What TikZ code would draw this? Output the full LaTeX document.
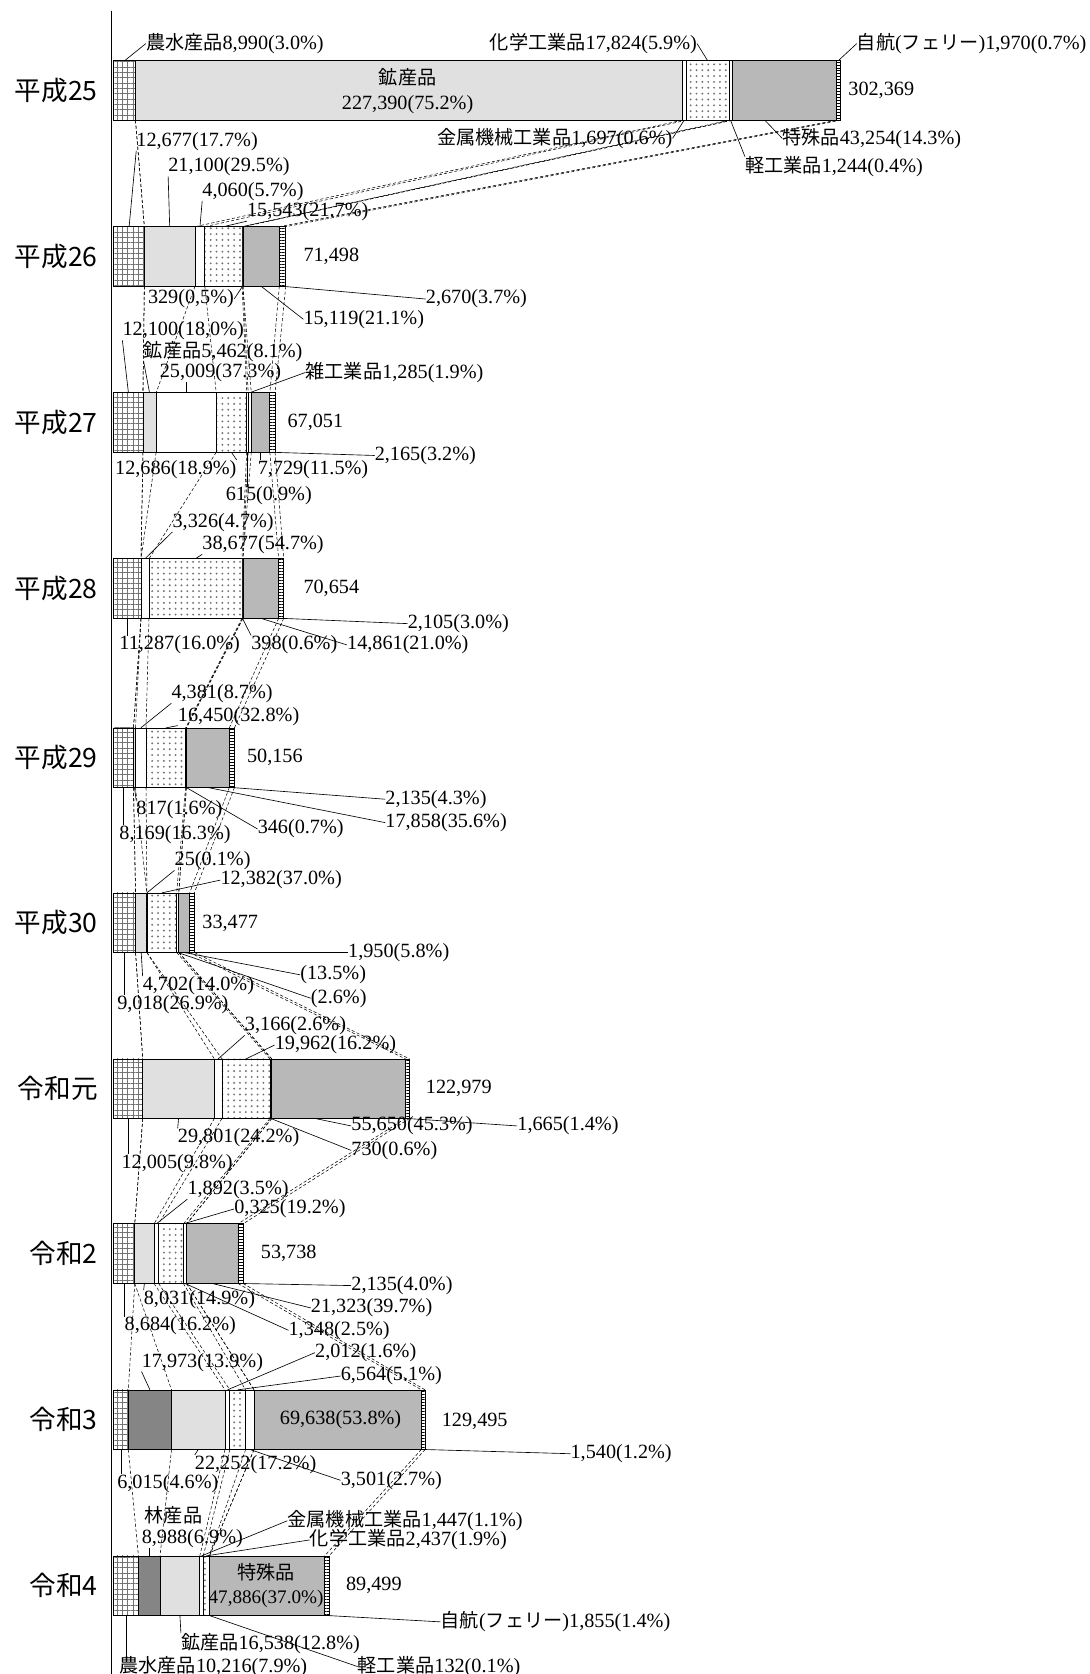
\documentclass[tikz,border=0pt]{standalone}
\usepackage{fontspec}
\setmainfont{Liberation Serif}
\newfontfamily\jp{Noto Sans CJK JP}
\usetikzlibrary{patterns.meta}

\newcommand\lbfont{\fontsize{19}{21}\selectfont}
\newcommand\yrfont{\jp\fontsize{25}{28}\selectfont}
\newcommand\jt[1]{{\jp\fontsize{18}{20}\selectfont #1}}
\newcommand\unitw{2.2588}

\tikzset{
    lbl/.style = {font=\lbfont, inner sep=0pt},
    yr/.style = {font=\yrfont, inner sep=0pt, anchor=east},
    lead/.style = {line width = 0.6pt},
    link/.style = {line width = 0.5pt, dash pattern = on 3pt off 2pt},
    seg/.style = {draw=black, line width = 0.7pt},
    seg1/.style = {seg, pattern={Hatch[angle=0, distance=5pt, line width=0.6pt]}, pattern color=black!55},
    seg2/.style = {seg, fill=black!48},
    seg3/.style = {seg, fill=black!12},
    seg4/.style = {seg, fill=white},
    seg5/.style = {seg, pattern={Dots[distance=5.5pt, radius=1pt]}, pattern color=black!55},
    seg6/.style = {seg, fill=white},
    seg7/.style = {seg, fill=white},
    seg8/.style = {seg, fill=black!28},
    seg9/.style = {seg, pattern={Lines[angle=0, distance=2.8pt, line width=0.7pt]}, pattern color=black},
}

% one bar: row name, top edge, values in thousands
\newcommand\cargobar[3]{%
    \gdef\xcur{107}%
    \foreach \v [count=\k] in {#3} {
        \pgfmathsetmacro\xnext{\xcur+\v*\unitw}
        \draw
            [style=seg\k] (\xcur,#2) rectangle (\xnext,#2+56);
        \coordinate (#1s\k-t) at ({(\xcur+\xnext)/2},#2);
        \coordinate (#1s\k-b) at ({(\xcur+\xnext)/2},#2+56);
        \coordinate (#1b\k-t) at (\xnext,#2);
        \coordinate (#1b\k-b) at (\xnext,#2+56);
        \xdef\xcur{\xnext}
    }%
}

\begin{document}
\begin{tikzpicture}[x=1pt, y=-1pt]
    \useasboundingbox (0,0) rectangle (1024,1573);

    \coordinate (axtop) at (105,10);
    \coordinate (axbot) at (105,1573);
    \draw
        [line width = 1.2pt] (axtop) -- (axbot);

    \cargobar{r1}{57}{8.990, 0, 227.390, 1.697, 17.824, 1.244, 0, 43.254, 1.970}
    \cargobar{r2}{213}{12.677, 0, 21.100, 4.060, 15.543, 0.329, 0, 15.119, 2.670}
    \cargobar{r3}{369}{12.100, 0, 5.462, 25.009, 12.686, 0.615, 1.285, 7.729, 2.165}
    \cargobar{r4}{525}{11.287, 0, 0, 3.326, 38.677, 0.398, 0, 14.861, 2.105}
    \cargobar{r5}{684}{8.169, 0, 0.817, 4.381, 16.450, 0.346, 0, 17.858, 2.135}
    \cargobar{r6}{839}{9.018, 0, 4.702, 0.025, 12.382, 0.881, 0, 4.519, 1.950}
    \cargobar{r7}{995}{12.005, 0, 29.801, 3.166, 19.962, 0.730, 0, 55.650, 1.665}
    \cargobar{r8}{1150}{8.684, 0, 8.031, 1.892, 10.325, 1.348, 0, 21.323, 2.135}
    \cargobar{r9}{1306}{6.015, 17.973, 22.252, 2.012, 6.564, 3.501, 0, 69.638, 1.540}
    \cargobar{r10}{1462}{10.216, 8.988, 16.538, 1.447, 2.437, 0.132, 0, 47.886, 1.855}

    \foreach \i [evaluate=\i as \j using int(\i+1)] in {1,...,9}
        \foreach \k in {1,...,9}
            \draw
                [link] (r\i b\k-b) -- (r\j b\k-t);

    \node[yr] (y1) at (92,85) {平成25};
    \node[yr] (y2) at (92,241) {平成26};
    \node[yr] (y3) at (92,397) {平成27};
    \node[yr] (y4) at (92,553) {平成28};
    \node[yr] (y5) at (92,712) {平成29};
    \node[yr] (y6) at (92,867) {平成30};
    \node[yr] (y7) at (92,1023) {令和元};
    \node[yr] (y8) at (92,1178) {令和2};
    \node[yr] (y9) at (92,1334) {令和3};
    \node[yr] (y10) at (92,1490) {令和4};

    % 平成25
    \node[lbl, anchor=west] (r1a) at (137,41) {\jt{農水産品}8,990(3.0\%)};
    \node[lbl, anchor=east] (r1e) at (655,41) {\jt{化学工業品}17,824(5.9\%)};
    \node[lbl, anchor=west] (r1i) at (805,41) {\jt{自航}(\jt{フェリー})1,970(0.7\%)};
    \node[lbl] (r1c) at (383,73) {\jt{鉱産品}};
    \node[lbl] (r1cv) at (383,98) {227,390(75.2\%)};
    \node[lbl, anchor=west] (r1t) at (797,85) {302,369};
    \node[lbl, anchor=east] (r1d) at (632,130) {\jt{金属機械工業品}1,697(0.6\%)};
    \node[lbl, anchor=west] (r1h) at (735,130) {\jt{特殊品}43,254(14.3\%)};
    \node[lbl, anchor=west] (r1f) at (700,157) {\jt{軽工業品}1,244(0.4\%)};
    \draw[lead] (r1s1-t) -- (r1a.west);
    \draw[lead] (r1e.east) -- (r1s5-t);
    \draw[lead] (r1s9-t) -- (r1i.west);
    \draw[lead] (r1s4-b) -- (r1d.east);
    \draw[lead] ([xshift=-18pt]r1s8-b) -- (r1h.west);
    \draw[lead] (r1s6-b) -- (r1f.north west);

    % 平成26
    \node[lbl, anchor=west] (r2a) at (128,133) {12,677(17.7\%)};
    \node[lbl, anchor=west] (r2c) at (158,157) {21,100(29.5\%)};
    \node[lbl, anchor=west] (r2d) at (190,180) {4,060(5.7\%)};
    \node[lbl, anchor=west] (r2e) at (232,199) {15,543(21.7\%)};
    \node[lbl, anchor=west] (r2t) at (285,241) {71,498};
    \node[lbl, anchor=east] (r2f) at (220,281) {329(0,5\%)};
    \node[lbl, anchor=west] (r2i) at (400,281) {2,670(3.7\%)};
    \node[lbl, anchor=west] (r2h) at (285,300) {15,119(21.1\%)};
    \draw[lead] (r2s1-t) -- (r2a.south west);
    \draw[lead] (r2s3-t) -- (r2c.south west);
    \draw[lead] (r2s4-t) -- (r2d.south west);
    \draw[lead] (r2s5-t) -- (r2e.south west);
    \draw[lead] (r2s6-b) -- (r2f.east);
    \draw[lead] (r2s9-b) -- (r2i.west);
    \draw[lead] (r2s8-b) -- (r2h.west);

    % 平成27
    \node[lbl, anchor=west] (r3a) at (115,311) {12,100(18,0\%)};
    \node[lbl, anchor=west] (r3c) at (135,330) {\jt{鉱産品}5,462(8.1\%)};
    \node[lbl, anchor=west] (r3d) at (150,350) {25,009(37.3\%)};
    \node[lbl, anchor=west] (r3g) at (287,350) {\jt{雑工業品}1,285(1.9\%)};
    \node[lbl, anchor=west] (r3t) at (270,397) {67,051};
    \node[lbl, anchor=west] (r3i) at (352,428) {2,165(3.2\%)};
    \node[lbl, anchor=west] (r3e) at (108,441) {12,686(18.9\%)};
    \node[lbl, anchor=west] (r3h) at (242,441) {7,729(11.5\%)};
    \node[lbl, anchor=west] (r3f) at (212,466) {615(0.9\%)};
    \draw[lead] (r3s1-t) -- (r3a.south west);
    \draw[lead] (r3s3-t) -- (r3c.south west);
    \draw[lead] (r3s4-t) -- (r3s4-t |- r3d.south);
    \draw[lead] (r3s7-t) -- (r3g.west);
    \draw[lead] (r3s9-b) -- (r3i.west);
    \draw[lead] (r3s5-b) -- (r3e.north east);
    \draw[lead] (r3s8-b) -- (r3s8-b |- r3h.north);
    \draw[lead] (r3s6-b) -- (r3s6-b |- r3f.north);

    % 平成28
    \node[lbl, anchor=west] (r4d) at (162,491) {3,326(4.7\%)};
    \node[lbl, anchor=west] (r4e) at (190,512) {38,677(54.7\%)};
    \node[lbl, anchor=west] (r4t) at (285,553) {70,654};
    \node[lbl, anchor=west] (r4i) at (383,586) {2,105(3.0\%)};
    \node[lbl, anchor=west] (r4a) at (112,606) {11,287(16.0\%)};
    \node[lbl, anchor=west] (r4f) at (236,606) {398(0.6\%)};
    \node[lbl, anchor=west] (r4h) at (326,606) {14,861(21.0\%)};
    \draw[lead] (r4s4-t) -- (r4d.south west);
    \draw[lead] (r4s5-t) -- (r4e.south west);
    \draw[lead] (r4s9-b) -- (r4i.west);
    \draw[lead] (r4s1-b) -- (r4s1-b |- r4a.north);
    \draw[lead] (r4s6-b) -- (r4f.north west);
    \draw[lead] (r4s8-b) -- (r4h.west);

    % 平成29
    \node[lbl, anchor=west] (r5d) at (161,652) {4,381(8.7\%)};
    \node[lbl, anchor=west] (r5e) at (167,673) {16,450(32.8\%)};
    \node[lbl, anchor=west] (r5t) at (232,712) {50,156};
    \node[lbl, anchor=west] (r5i) at (362,751) {2,135(4.3\%)};
    \node[lbl, anchor=west] (r5c) at (128,761) {817(1.6\%)};
    \node[lbl, anchor=west] (r5h) at (362,773) {17,858(35.6\%)};
    \node[lbl, anchor=west] (r5f) at (242,779) {346(0.7\%)};
    \node[lbl, anchor=west] (r5a) at (112,784) {8,169(16.3\%)};
    \draw[lead] (r5s4-t) -- (r5d.south west);
    \draw[lead] (r5s5-t) -- (r5e.south west);
    \draw[lead] (r5s9-b) -- (r5i.west);
    \draw[lead] (r5s3-b) -- (r5c.north west);
    \draw[lead] (r5s8-b) -- (r5h.west);
    \draw[lead] (r5b6-b) -- (r5f.west);
    \draw[lead] (r5s1-b) -- (r5s1-b |- r5a.north);

    % 平成30
    \node[lbl, anchor=west] (r6d) at (164,809) {25(0.1\%)};
    \node[lbl, anchor=west] (r6e) at (207,827) {12,382(37.0\%)};
    \node[lbl, anchor=west] (r6t) at (190,868) {33,477};
    \node[lbl, anchor=west] (r6i) at (327,895) {1,950(5.8\%)};
    \node[lbl, anchor=west] (r6h) at (282,916) {(13.5\%)};
    \node[lbl, anchor=west] (r6c) at (134,926) {4,702(14.0\%)};
    \node[lbl, anchor=west] (r6f) at (292,938) {(2.6\%)};
    \node[lbl, anchor=west] (r6a) at (110,944) {9,018(26.9\%)};
    \draw[lead] (r6s4-t) -- (r6d.south west);
    \draw[lead] (r6s5-t) -- (r6e.west);
    \draw[lead] (r6s9-b) -- (r6i.west);
    \draw[lead] (r6s8-b) -- (r6h.west);
    \draw[lead] (r6s3-b) -- (r6c.north west);
    \draw[lead] (r6s6-b) -- (r6f.west);
    \draw[lead] (r6s1-b) -- (r6s1-b |- r6a.north);

    % 令和元
    \node[lbl, anchor=west] (r7d) at (230,964) {3,166(2.6\%)};
    \node[lbl, anchor=west] (r7e) at (258,982) {19,962(16.2\%)};
    \node[lbl, anchor=west] (r7t) at (400,1023) {122,979};
    \node[lbl, anchor=west] (r7i) at (486,1058) {1,665(1.4\%)};
    \node[lbl, anchor=west] (r7h) at (330,1058) {55,650(45.3\%)};
    \node[lbl, anchor=west] (r7c) at (167,1069) {29,801(24.2\%)};
    \node[lbl, anchor=west] (r7f) at (330,1081) {730(0.6\%)};
    \node[lbl, anchor=west] (r7a) at (114,1093) {12,005(9.8\%)};
    \draw[lead] (r7s4-t) -- (r7d.south west);
    \draw[lead] (r7s5-t) -- (r7e.west);
    \draw[lead] (r7s9-b) -- (r7i.west);
    \draw[lead] ([xshift=-22pt]r7s8-b) -- (r7h.west);
    \draw[lead] (r7s3-b) -- (r7c.north west);
    \draw[lead] (r7s6-b) -- (r7f.west);
    \draw[lead] (r7s1-b) -- (r7s1-b |- r7a.north);

    % 令和2
    \node[lbl, anchor=west] (r8d) at (176,1118) {1,892(3.5\%)};
    \node[lbl, anchor=west] (r8e) at (220,1136) {0,325(19.2\%)};
    \node[lbl, anchor=west] (r8t) at (245,1178) {53,738};
    \node[lbl, anchor=west] (r8i) at (330,1208) {2,135(4.0\%)};
    \node[lbl, anchor=west] (r8c) at (135,1221) {8,031(14.9\%)};
    \node[lbl, anchor=west] (r8h) at (292,1229) {21,323(39.7\%)};
    \node[lbl, anchor=west] (r8a) at (117,1246) {8,684(16.2\%)};
    \node[lbl, anchor=west] (r8f) at (271,1250) {1,348(2.5\%)};
    \draw[lead] (r8s4-t) -- (r8d.south west);
    \draw[lead] (r8b5-t) -- (r8e.west);
    \draw[lead] (r8s9-b) -- (r8i.west);
    \draw[lead] (r8s3-b) -- (r8c.north west);
    \draw[lead] (r8s8-b) -- (r8h.west);
    \draw[lead] (r8s1-b) -- (r8s1-b |- r8a.north);
    \draw[lead] (r8s6-b) -- (r8f.west);

    % 令和3
    \node[lbl, anchor=west] (r9d) at (296,1271) {2,012(1.6\%)};
    \node[lbl, anchor=west] (r9b) at (133,1280) {17,973(13.9\%)};
    \node[lbl, anchor=west] (r9e) at (320,1293) {6,564(5.1\%)};
    \node[lbl] (r9hv) at (320,1334) {69,638(53.8\%)};
    \node[lbl, anchor=west] (r9t) at (415,1336) {129,495};
    \node[lbl, anchor=west] (r9i) at (536,1366) {1,540(1.2\%)};
    \node[lbl, anchor=west] (r9c) at (183,1376) {22,252(17.2\%)};
    \node[lbl, anchor=west] (r9f) at (320,1391) {3,501(2.7\%)};
    \node[lbl, anchor=west] (r9a) at (110,1394) {6,015(4.6\%)};
    \draw[lead] (r9s4-t) -- (r9d.west);
    \draw[lead] (r9s2-t) -- (r9b.south west);
    \draw[lead] (r9s5-t) -- (r9e.west);
    \draw[lead] (r9s9-b) -- (r9i.west);
    \draw[lead] (r9s3-b) -- (r9c.north west);
    \draw[lead] (r9s6-b) -- (r9f.west);
    \draw[lead] (r9s1-b) -- (r9s1-b |- r9a.north);

    % 令和4
    \node[lbl] (r10bn) at (163,1424) {\jt{林産品}};
    \node[lbl, anchor=west] (r10b) at (133,1446) {8,988(6.9\%)};
    \node[lbl, anchor=west] (r10d) at (270,1429) {\jt{金属機械工業品}1,447(1.1\%)};
    \node[lbl, anchor=west] (r10e) at (291,1447) {\jt{化学工業品}2,437(1.9\%)};
    \node[lbl] (r10hn) at (250,1477) {\jt{特殊品}};
    \node[lbl, font=\fontsize{18}{20}\selectfont] (r10hv) at (250,1502) {47,886(37.0\%)};
    \node[lbl, anchor=west] (r10t) at (325,1490) {89,499};
    \node[lbl, anchor=west] (r10i) at (414,1524) {\jt{自航}(\jt{フェリー})1,855(1.4\%)};
    \node[lbl, anchor=west] (r10c) at (170,1544) {\jt{鉱産品}16,538(12.8\%)};
    \node[lbl, anchor=west] (r10a) at (112,1566) {\jt{農水産品}10,216(7.9\%)};
    \node[lbl, anchor=west] (r10f) at (336,1566) {\jt{軽工業品}132(0.1\%)};
    \draw[lead] (r10s2-t) -- (r10s2-t |- r10b.south);
    \draw[lead] (r10s4-t) -- (r10d.west);
    \draw[lead] (r10s5-t) -- (r10e.west);
    \draw[lead] (r10s9-b) -- (r10i.west);
    \draw[lead] (r10s3-b) -- (r10c.north west);
    \draw[lead] (r10s1-b) -- (r10s1-b |- r10a.north);
    \draw[lead] (r10s6-b) -- (r10f.west);
\end{tikzpicture}
\end{document}
